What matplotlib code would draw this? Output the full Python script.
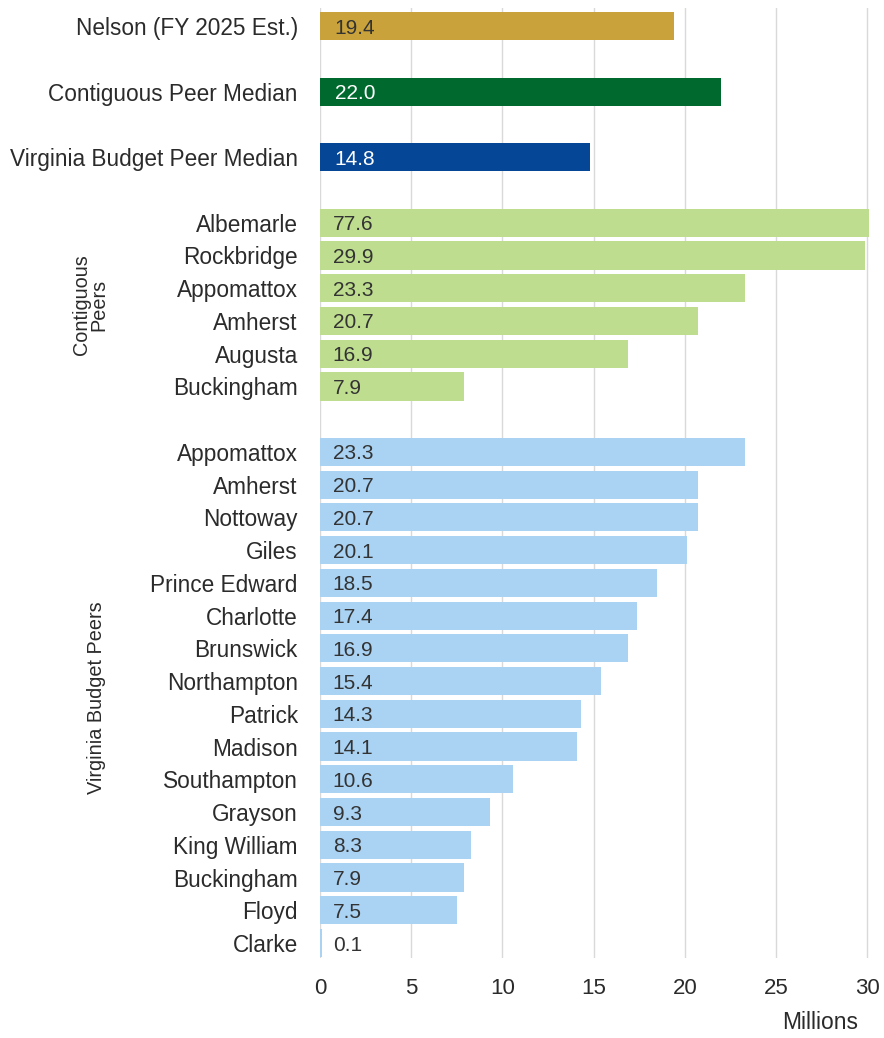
import matplotlib.pyplot as plt

top_labels = ["Nelson (FY 2025 Est.)", "Contiguous Peer Median", "Virginia Budget Peer Median"]
top_values = [19.4, 22.0, 14.8]
top_colors = ["#C9A23C", "#006A2E", "#064697"]
top_text_colors = ["#333333", "white", "white"]

contig_labels = ["Albemarle", "Rockbridge", "Appomattox", "Amherst", "Augusta", "Buckingham"]
contig_values = [77.6, 29.9, 23.3, 20.7, 16.9, 7.9]

va_labels = ["Appomattox", "Amherst", "Nottoway", "Giles", "Prince Edward", "Charlotte",
             "Brunswick", "Northampton", "Patrick", "Madison", "Southampton", "Grayson",
             "King William", "Buckingham", "Floyd", "Clarke"]
va_values = [23.3, 20.7, 20.7, 20.1, 18.5, 17.4, 16.9, 15.4, 14.3, 14.1, 10.6, 9.3,
             8.3, 7.9, 7.5, 0.1]

plt.rcParams['font.family'] = ['Liberation Sans', 'DejaVu Sans']

fig = plt.figure(figsize=(8.84, 10.38), dpi=100)
ax = fig.add_axes([0.362, 0.077, 0.621, 0.915])

# row positions: medians every other row, then the two groups with a gap
pos_top = [0, 2, 4]
pos_contig = [6 + i for i in range(len(contig_labels))]
pos_va = [13 + i for i in range(len(va_labels))]

h = 0.86
ax.barh(pos_top, top_values, height=h, color=top_colors, zorder=2)
ax.barh(pos_contig, contig_values, height=h, color="#BEDD8E", zorder=2)
ax.barh(pos_va, va_values, height=h, color="#A9D2F3", zorder=2)

# value labels inside the bars, near the left edge
for p, v, tc in zip(pos_top, top_values, top_text_colors):
    ax.text(0.8, p, f"{v:.1f}", va="center_baseline", ha="left", fontsize=15, color=tc, zorder=3)
for p, v in zip(pos_contig, contig_values):
    ax.text(0.7, p, f"{v:.1f}", va="center_baseline", ha="left", fontsize=15, color="#333333", zorder=3)
for p, v in zip(pos_va, va_values):
    ax.text(0.7, p, f"{v:.1f}", va="center_baseline", ha="left", fontsize=15, color="#333333", zorder=3)

ax.set_yticks(pos_top + pos_contig + pos_va)
ax.set_yticklabels(top_labels + contig_labels + va_labels, fontsize=16.3, color="#2b2b2b")
ax.set_ylim(28.46, -0.55)
ax.set_xlim(0, 30.1)
ax.set_xticks([0, 5, 10, 15, 20, 25, 30])
ax.tick_params(axis="x", labelsize=16, colors="#2b2b2b", length=0, pad=14)
ax.tick_params(axis="y", length=0, pad=16)
ax.grid(axis="x", color="#D9D9D9", linewidth=1, zorder=0)
for s in ax.spines.values():
    s.set_visible(False)

fig.text(0.971, 0.004, "Millions", ha="right", va="bottom", fontsize=16.5, color="#2b2b2b")

# group labels
fig.text(90 / 884, 1 - 305 / 1038, "Contiguous\nPeers", rotation=90, ha="center", va="center",
         fontsize=14.3, color="#2b2b2b", linespacing=0.9)
fig.text(96 / 884, 1 - 698 / 1038, "Virginia Budget Peers", rotation=90, ha="center", va="center",
         fontsize=14.3, color="#2b2b2b")

fig.savefig("out.png", dpi=100)
